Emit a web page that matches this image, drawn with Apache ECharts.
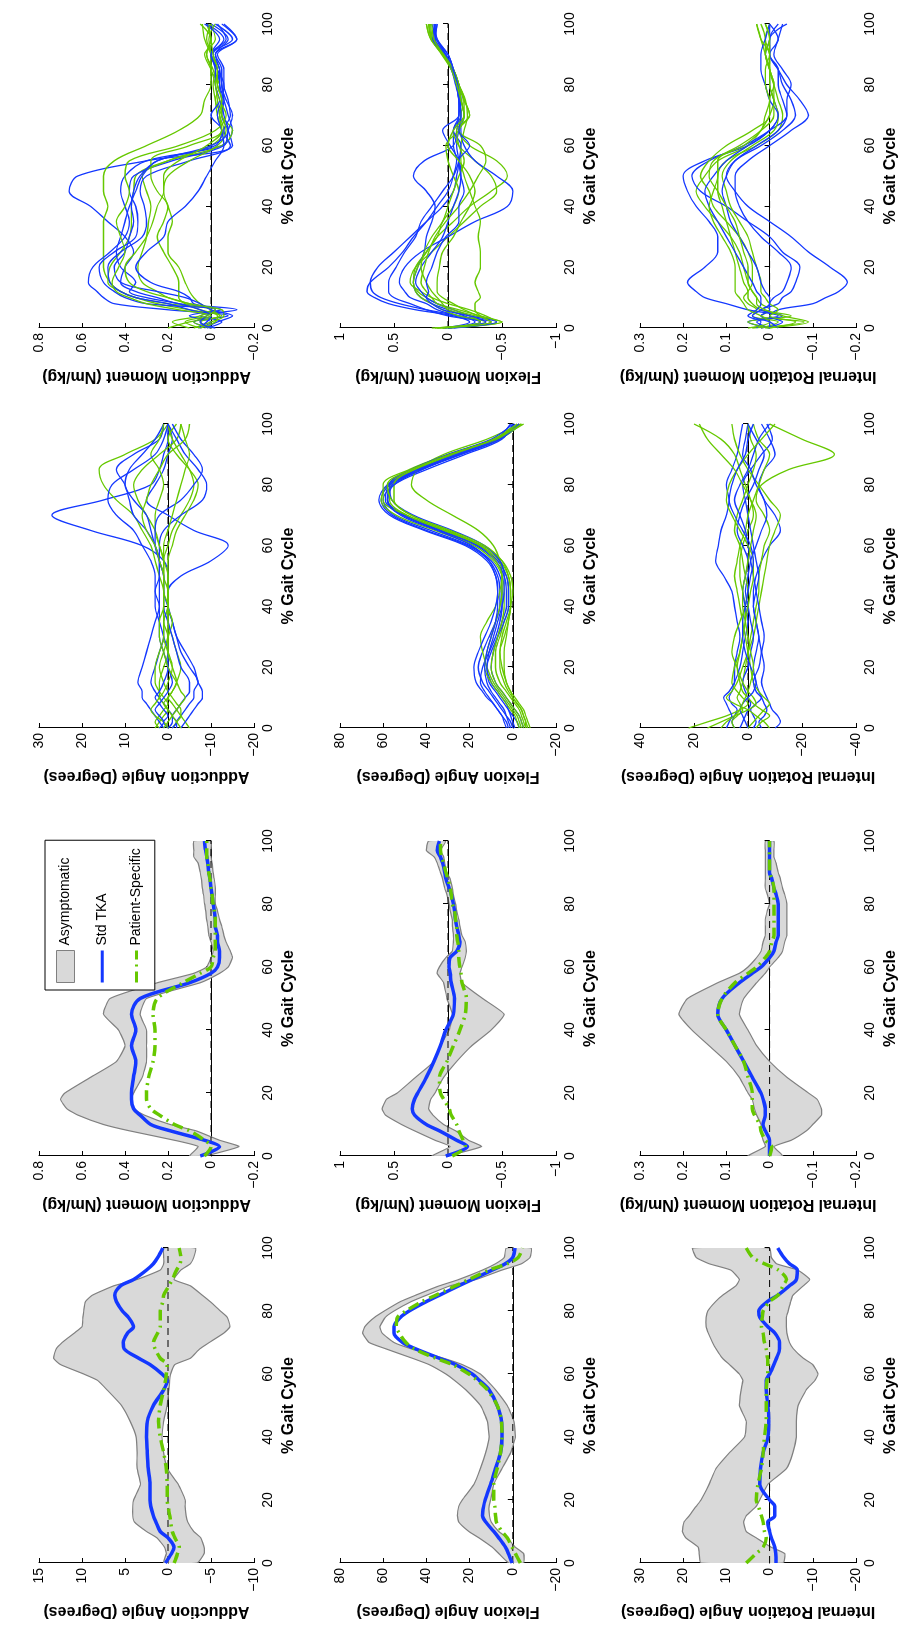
<!DOCTYPE html>
<html>
<head>
<meta charset="utf-8">
<script src="https://cdn.jsdelivr.net/npm/echarts@6/dist/echarts.min.js"></script>
<style>
  html, body { margin: 0; padding: 0; width: 900px; height: 1640px; overflow: hidden; background: #fff; }
  /* the figure is drawn landscape and turned a quarter turn counter-clockwise */
  #chart { position: absolute; left: 0; top: 0; width: 1640px; height: 900px;
           transform-origin: 0 0; transform: translate(0, 1640px) rotate(-90deg); }
</style>
</head>
<body>
<div id="chart"></div>
<script>
// % gait cycle sample points
const meanGait = [0, 3, 5, 8, 10, 13, 15, 18, 20, 25, 30, 35, 40, 45, 50, 55, 58, 60, 63, 65, 68, 70, 73, 75, 78, 80, 83, 85, 88, 90, 93, 95, 97, 100];
const indGait = [0, 2, 4, 6, 8, 10, 12, 15, 20, 25, 30, 35, 40, 45, 50, 55, 60, 65, 70, 75, 80, 85, 90, 95, 100];

// ---- mean curves: asymptomatic band (upper / lower), Std TKA, Patient-Specific ----
const addAngUpper = [0.5, 0.2, 0.4, 1.3, 2.5, 3.9, 4.1, 4.1, 4.0, 3.2, 3.6, 3.6, 3.7, 4.4, 5.4, 7.1, 8.2, 9.8, 12.5, 13.3, 13.0, 12.3, 10.9, 10.0, 9.9, 9.8, 9.6, 8.8, 6.3, 3.6, 0.9, 0.5, 0.5, 0.5];
const addAngLower = [-3.4, -4.2, -4.2, -3.8, -3.0, -2.3, -2.1, -2.0, -2.0, -1.2, 0.1, 0.5, 0.7, 0.5, 0.1, -0.1, -0.2, -0.3, -0.8, -2.6, -3.7, -4.8, -6.5, -7.2, -6.9, -6.1, -4.9, -4.0, -2.6, -0.7, -1.5, -2.6, -3.0, -3.2];
const addAngStd = [0.3, -0.4, -0.7, 0.0, 0.9, 1.4, 1.7, 2.0, 2.1, 2.1, 2.3, 2.4, 2.5, 2.4, 1.7, 0.5, 0.1, 0.7, 2.1, 3.4, 5.1, 5.2, 4.7, 4.0, 4.6, 5.3, 6.0, 6.2, 5.5, 4.0, 2.5, 1.7, 1.2, 0.6];
const addAngPS = [-0.7, -1.1, -1.3, -0.8, -0.5, -0.3, -0.2, 0.0, 0.1, 0.1, 0.2, 0.5, 0.9, 1.1, 0.9, 0.5, 0.3, 0.2, 0.1, 0.9, 1.5, 1.7, 1.2, 0.9, 0.9, 0.9, 0.6, 0.5, -0.1, -0.5, -1.0, -1.4, -1.5, -1.3];

const flxAngUpper = [1.8, 6.5, 9.5, 15.7, 20.3, 25.0, 25.7, 25.0, 23.4, 18.0, 15.0, 12.6, 11.0, 11.8, 15.0, 21.8, 27.0, 31.0, 38.8, 46.5, 58.8, 66.5, 69.5, 68.5, 64.0, 59.5, 52.0, 45.0, 34.0, 25.0, 14.0, 8.0, 4.0, 3.0];
const flxAngLower = [-5.0, -5.0, -1.2, 2.6, 6.5, 10.0, 10.8, 11.0, 10.3, 8.8, 5.0, 1.0, -1.2, -0.5, 2.6, 8.0, 12.0, 15.0, 23.4, 32.0, 47.0, 55.0, 60.5, 61.5, 59.0, 55.0, 47.0, 40.0, 29.0, 17.0, 5.0, -4.0, -8.0, -8.5];
const flxAngStd = [0.3, 2.0, 3.4, 6.5, 8.8, 12.5, 14.0, 13.5, 12.8, 10.3, 8.0, 5.7, 5.0, 5.2, 7.2, 11.0, 15.5, 18.8, 26.5, 34.0, 45.0, 51.0, 55.0, 55.0, 52.0, 48.0, 40.0, 34.0, 25.0, 18.8, 9.5, 3.5, 0.0, -1.0];
const flxAngPS = [-3.5, -1.2, 0.3, 2.6, 5.0, 7.6, 8.0, 8.3, 8.8, 8.8, 7.2, 5.7, 5.0, 5.2, 7.2, 11.8, 16.5, 20.3, 28.0, 35.7, 45.7, 49.5, 52.6, 54.0, 53.4, 49.5, 42.0, 35.7, 26.5, 20.3, 11.0, 2.5, -2.5, -4.5];

const rotAngUpper = [15.9, 16.3, 16.5, 19.4, 20.2, 19.8, 18.6, 17.0, 15.9, 14.0, 12.4, 9.3, 5.8, 5.4, 7.0, 6.6, 6.2, 7.0, 9.3, 10.9, 12.4, 13.2, 14.2, 14.7, 14.7, 14.3, 12.5, 10.9, 7.8, 7.0, 9.0, 14.0, 17.0, 17.8];
const rotAngLower = [-3.1, -3.5, -0.4, 3.1, 5.4, 6.0, 5.4, 3.1, 2.3, 0.4, -3.9, -5.4, -6.2, -6.2, -6.6, -8.5, -10.5, -11.2, -10.0, -7.8, -5.5, -4.6, -4.0, -3.9, -3.9, -4.3, -4.9, -5.4, -7.8, -9.3, -6.5, -1.6, -0.4, 0.0];
const rotAngStd = [-1.5, -1.4, -1.2, -0.4, 0.0, 0.4, -1.2, -1.2, 0.0, 2.3, 2.1, 1.5, 0.4, 0.2, 0.4, 0.8, 0.8, 0.0, -1.0, -1.6, -2.3, -2.3, -1.2, 0.4, 2.3, 2.5, 0.5, -1.9, -4.6, -6.2, -6.4, -4.6, -3.3, -1.9];
const rotAngPS = [5.4, 3.1, 1.5, 0.8, 1.2, 1.5, 1.9, 2.6, 3.1, 2.7, 1.9, 1.5, 1.2, 0.8, 0.8, 0.8, 0.6, 0.4, 0.4, 0.5, 0.8, 1.2, 1.5, 1.9, 1.7, 1.5, 0.0, -1.9, -3.1, -3.9, -2.0, 1.2, 3.9, 5.4];

const addMomUpper = [0.10, 0.06, 0.17, 0.38, 0.50, 0.62, 0.67, 0.70, 0.68, 0.56, 0.44, 0.40, 0.43, 0.50, 0.47, 0.25, 0.08, 0.02, 0.0, -0.01, 0.0, 0.01, 0.015, 0.02, 0.025, 0.03, 0.035, 0.04, 0.045, 0.05, 0.06, 0.08, 0.08, 0.08];
const addMomLower = [0.03, -0.13, -0.04, 0.07, 0.19, 0.31, 0.36, 0.37, 0.36, 0.32, 0.30, 0.30, 0.30, 0.33, 0.30, 0.05, -0.04, -0.08, -0.10, -0.09, -0.07, -0.06, -0.05, -0.04, -0.03, -0.02, -0.02, -0.02, -0.015, -0.01, -0.005, 0.0, 0.0, 0.0];
const addMomStd = [0.05, -0.04, 0.03, 0.19, 0.28, 0.33, 0.36, 0.37, 0.37, 0.36, 0.35, 0.37, 0.35, 0.37, 0.33, 0.10, 0.0, -0.03, -0.04, -0.04, -0.03, -0.03, -0.02, -0.02, -0.015, -0.01, -0.005, 0.0, 0.005, 0.01, 0.015, 0.02, 0.025, 0.03];
const addMomPS = [0.03, 0.0, 0.03, 0.10, 0.17, 0.24, 0.28, 0.30, 0.30, 0.29, 0.27, 0.26, 0.26, 0.27, 0.25, 0.13, 0.05, 0.0, -0.01, -0.02, -0.02, -0.02, -0.02, -0.02, -0.015, -0.01, -0.005, 0.0, 0.005, 0.01, 0.015, 0.02, 0.02, 0.02];

const flxMomUpper = [0.15, -0.02, 0.12, 0.31, 0.43, 0.58, 0.61, 0.57, 0.47, 0.30, 0.13, 0.07, -0.01, -0.04, 0.01, 0.04, 0.10, 0.08, 0.02, -0.04, -0.05, -0.05, -0.04, -0.04, -0.02, -0.01, 0.01, 0.03, 0.05, 0.07, 0.10, 0.13, 0.20, 0.18];
const flxMomLower = [0.02, -0.31, -0.19, -0.07, 0.04, 0.14, 0.18, 0.16, 0.12, 0.04, -0.08, -0.22, -0.40, -0.52, -0.32, -0.13, -0.11, -0.13, -0.16, -0.17, -0.16, -0.13, -0.11, -0.10, -0.08, -0.07, -0.05, -0.04, -0.02, 0.01, 0.03, 0.04, 0.07, 0.02];
const flxMomStd = [0.02, -0.18, -0.08, 0.08, 0.20, 0.31, 0.33, 0.31, 0.28, 0.20, 0.13, 0.07, 0.02, -0.05, -0.06, -0.03, -0.02, -0.01, -0.02, -0.08, -0.11, -0.10, -0.08, -0.07, -0.06, -0.05, -0.03, -0.01, 0.02, 0.03, 0.05, 0.07, 0.10, 0.08];
const flxMomPS = [-0.04, -0.16, -0.14, -0.10, -0.08, -0.03, -0.01, 0.04, 0.07, 0.08, 0.01, -0.05, -0.11, -0.16, -0.17, -0.13, -0.12, -0.11, -0.10, -0.10, -0.09, -0.08, -0.08, -0.07, -0.06, -0.04, -0.03, -0.02, 0.0, 0.02, 0.04, 0.06, 0.07, 0.07];

const rotMomUpper = [0.05, 0.01, 0.015, 0.02, 0.02, 0.03, 0.035, 0.04, 0.05, 0.07, 0.10, 0.14, 0.18, 0.21, 0.19, 0.12, 0.07, 0.05, 0.03, 0.02, 0.015, 0.01, 0.01, 0.01, 0.005, 0.0, 0.005, 0.01, 0.01, 0.01, 0.01, 0.01, 0.01, 0.01];
const rotMomLower = [-0.03, -0.01, -0.05, -0.085, -0.10, -0.12, -0.12, -0.11, -0.09, -0.04, 0.0, 0.03, 0.05, 0.07, 0.06, 0.03, 0.01, 0.0, -0.02, -0.03, -0.035, -0.04, -0.04, -0.04, -0.04, -0.04, -0.035, -0.03, -0.025, -0.02, -0.015, -0.01, -0.01, -0.01];
const rotMomStd = [0.0, 0.0, 0.0, 0.01, 0.015, 0.01, 0.01, 0.015, 0.02, 0.04, 0.06, 0.08, 0.10, 0.12, 0.11, 0.07, 0.04, 0.02, 0.0, -0.01, -0.015, -0.02, -0.02, -0.02, -0.02, -0.02, -0.015, -0.01, -0.005, 0.0, 0.0, 0.0, 0.0, 0.0];
const rotMomPS = [0.0, -0.005, 0.01, 0.02, 0.023, 0.035, 0.04, 0.04, 0.04, 0.05, 0.06, 0.08, 0.10, 0.12, 0.11, 0.08, 0.05, 0.03, 0.01, 0.0, -0.005, -0.01, -0.01, -0.01, -0.01, -0.01, -0.01, -0.01, -0.005, 0.0, 0.0, 0.0, 0.0, 0.0];

// ---- individual subjects (one row per knee) ----
const indAddAngStd = [
  [0, -1, -1, 0, 1, 2, 3, 4, 3, 2, 1, 1, 0, 0, 0, 1, 6, 18, 27, 15, 4, 2, 1, 0, 0],
  [-2, -2, -3, -4, -5, -6, -6, -7, -5, -3, -2, -1, 0, 0, -3, -10, -14, -6, 0, 5, 3, 1, 0, -1, 0],
  [1, 2, 3, 4, 5, 6, 6, 7, 6, 5, 4, 3, 2, 2, 2, 2, 3, 5, 8, 9, 10, 12, 8, 2, 1],
  [-3, -4, -5, -6, -7, -8, -8, -7, -6, -4, -2, -1, 0, 1, 1, 2, 2, 1, -3, -8, -9, -7, -4, -2, 0],
  [0, 1, 0, 1, 2, 3, 2, 1, 0, 0, 1, 2, 3, 3, 2, 2, 3, 4, 5, 8, 10, 9, 6, 3, 1],
  [-1, -2, -1, -2, -3, -4, -5, -5, -3, -2, -1, 0, 1, 1, 1, 2, 3, 3, 2, -3, -6, -8, -6, -3, -1],
  [2, 1, 2, 3, 2, 1, 0, -1, 0, 1, 2, 2, 2, 3, 3, 4, 6, 8, 12, 14, 13, 8, 3, 1, 0]
];
const indAddAngPS = [
  [3, 2, 1, 0, 1, 2, 2, 2, 1, 0, 0, 1, 1, 1, 2, 3, 4, 6, 8, 12, 15, 16, 10, 3, 0],
  [-5, -4, -3, -2, -1, 0, -1, -2, -3, -2, -1, 0, 0, 0, 1, 1, 0, -1, -3, -5, -6, -5, -3, -1, 0],
  [2, 3, 2, 1, 0, 1, 2, 3, 3, 2, 1, 1, 1, 1, 1, 1, 2, 3, 5, 7, 8, 6, 2, -2, -3],
  [-1, -2, -3, -3, -2, -1, 0, 1, 2, 1, 0, -1, 0, 0, 0, 0, -1, -2, -4, -6, -7, -5, -2, 0, -2],
  [0, 1, 3, 4, 3, 2, 1, 0, -1, 0, 1, 1, 0, 0, 0, 1, 2, 3, 3, 2, 1, 2, 4, 2, 1],
  [-3, -2, -1, 0, 1, 0, -1, -2, -1, 0, 0, 0, 0, 1, 1, 1, 1, 0, -1, -2, -3, -4, -5, -4, -3],
  [1, 0, -1, -2, -3, -4, -3, -2, 0, 1, 2, 2, 1, 1, 1, 2, 3, 5, 6, 5, 4, 2, 0, -4, -5]
];
const indFlxAngStd = [
  [2, 3, 5, 7, 9, 11, 13, 15, 14, 11, 8, 6, 5, 5, 6, 10, 20, 38, 55, 60, 55, 40, 22, 5, 0],
  [-3, -2, 0, 2, 4, 6, 8, 11, 12, 10, 7, 4, 2, 2, 3, 7, 16, 33, 50, 58, 56, 42, 25, 7, -1],
  [0, 1, 3, 5, 7, 9, 11, 14, 16, 14, 11, 8, 6, 6, 7, 11, 21, 40, 56, 61, 57, 43, 24, 6, -2],
  [-5, -4, -3, -1, 1, 3, 5, 8, 10, 9, 7, 5, 3, 3, 4, 8, 17, 34, 51, 59, 57, 44, 27, 8, -3],
  [3, 4, 5, 7, 9, 12, 14, 17, 18, 16, 13, 10, 8, 7, 8, 12, 22, 41, 57, 62, 58, 44, 26, 8, 1],
  [-1, 0, 1, 2, 3, 5, 7, 10, 12, 11, 9, 7, 5, 4, 4, 6, 13, 28, 46, 56, 57, 47, 30, 10, 0],
  [1, 2, 3, 4, 6, 8, 10, 12, 13, 12, 10, 8, 7, 7, 8, 11, 19, 35, 52, 58, 55, 42, 24, 6, -3]
];
const indFlxAngPS = [
  [-6, -5, -4, -3, -1, 1, 3, 6, 8, 8, 6, 4, 2, 2, 3, 7, 16, 33, 50, 58, 56, 43, 25, 6, -4],
  [-8, -7, -6, -5, -3, -1, 1, 3, 5, 6, 5, 3, 1, 1, 2, 6, 15, 32, 49, 57, 57, 45, 28, 8, -5],
  [-4, -3, -2, 0, 2, 4, 6, 9, 12, 14, 15, 12, 8, 6, 5, 6, 9, 16, 28, 40, 47, 44, 32, 12, -3],
  [-5, -4, -3, -1, 1, 3, 5, 8, 10, 9, 7, 5, 4, 4, 5, 9, 18, 36, 54, 61, 58, 45, 27, 7, -3],
  [-7, -6, -5, -4, -2, 0, 2, 4, 6, 6, 4, 2, 1, 0, 1, 5, 14, 31, 49, 60, 60, 48, 30, 9, -4],
  [-3, -2, -1, 1, 3, 5, 7, 10, 13, 12, 10, 8, 6, 5, 5, 8, 15, 30, 47, 55, 55, 46, 29, 9, -2],
  [-6, -6, -5, -4, -2, 0, 1, 3, 4, 4, 3, 2, 1, 1, 2, 5, 13, 29, 47, 56, 58, 47, 29, 8, -4]
];
const indRotAngStd = [
  [5, 6, 5, 4, 6, 7, 6, 5, 5, 4, 3, 4, 5, 6, 9, 12, 11, 10, 8, 7, 8, 6, 4, 3, 2],
  [-2, -3, -2, -1, -3, -5, -4, -3, -2, -3, -4, -3, -2, -2, -3, -5, -8, -12, -10, -6, -4, -6, -10, -8, -5],
  [-10, -12, -11, -9, -8, -7, -6, -5, -6, -5, -4, -3, -2, -3, -4, -3, -2, -1, 0, 1, 2, -1, -5, -9, -7],
  [3, 2, 1, 0, -1, 0, 1, 2, 0, -1, -2, -1, 0, 1, 0, -1, -3, -5, -7, -6, -3, -1, 2, 1, 0],
  [8, 7, 6, 7, 8, 9, 7, 5, 3, 2, 1, 0, 1, 2, 1, 0, 2, 4, 3, 1, -2, -4, -6, -3, 0],
  [-5, -4, -6, -7, -6, -5, -3, -2, -4, -5, -6, -5, -4, -3, -2, -1, 0, 1, 3, 5, 3, 0, -2, -4, -8],
  [0, 1, 2, 3, 2, 0, -2, -3, -1, 1, 2, 2, 1, 0, -1, -2, -1, 2, 5, 7, 6, 4, 1, 0, -2]
];
const indRotAngPS = [
  [22, 15, 8, 3, 0, 2, 4, 6, 5, 3, 2, 1, 1, 2, 3, 3, 2, 0, -2, -1, 1, 3, 5, 10, 20],
  [5, 6, 4, 2, 3, 4, 3, 2, 1, 0, -1, -2, -3, -4, -4, -5, -6, -8, -6, -3, -5, -15, -32, -20, -8],
  [-8, -6, -3, 0, 5, 8, 6, 4, 2, 0, -2, -3, -4, -5, -6, -7, -8, -10, -12, -8, -4, 0, 3, 5, 6],
  [15, 10, 5, 0, -3, -2, 0, 2, 4, 6, 5, 3, 1, 0, 1, 2, 3, 5, 4, 2, 0, -2, -3, -1, 0],
  [0, -2, -4, -6, -8, -6, -4, -2, -1, 0, 1, 2, 3, 4, 5, 4, 3, 1, 0, -2, -4, -6, -8, -4, -2],
  [-3, -5, -8, -5, -2, 0, 2, 3, 4, 3, 2, 1, 0, -1, -2, -2, 0, 3, 6, 8, 7, 4, 0, -5, -10],
  [10, 8, 5, 3, 2, 1, 0, -1, -2, -1, 0, 1, 2, 2, 1, 0, -1, -2, -3, -1, 2, 5, 10, 15, 18]
];
const indAddMomStd = [
  [0.02, -0.05, 0.05, -0.12, 0.15, 0.25, 0.35, 0.42, 0.40, 0.36, 0.40, 0.48, 0.56, 0.66, 0.62, 0.30, -0.10, -0.08, -0.05, -0.06, -0.05, -0.04, -0.02, -0.12, -0.05],
  [0.0, 0.05, -0.08, 0.2, 0.45, 0.5, 0.53, 0.57, 0.55, 0.47, 0.40, 0.38, 0.40, 0.42, 0.40, 0.30, -0.05, -0.1, -0.08, -0.06, -0.04, -0.03, 0.0, -0.1, -0.02],
  [0.05, 0.0, 0.1, -0.05, 0.3, 0.4, 0.45, 0.5, 0.52, 0.45, 0.35, 0.34, 0.35, 0.38, 0.36, 0.18, -0.06, -0.08, -0.1, -0.07, -0.05, -0.05, -0.02, -0.08, 0.0],
  [-0.02, 0.08, 0.0, 0.1, 0.2, 0.35, 0.42, 0.47, 0.48, 0.42, 0.32, 0.30, 0.31, 0.33, 0.30, 0.1, -0.09, -0.06, -0.09, -0.08, -0.06, -0.06, -0.03, -0.12, -0.06],
  [0.03, -0.03, -0.1, 0.0, 0.05, 0.12, 0.25, 0.42, 0.45, 0.40, 0.38, 0.36, 0.37, 0.36, 0.33, 0.25, 0.0, -0.08, -0.06, -0.05, -0.04, -0.04, -0.01, -0.06, 0.02],
  [0.06, 0.02, 0.0, 0.05, 0.15, 0.3, 0.38, 0.35, 0.42, 0.44, 0.42, 0.40, 0.38, 0.35, 0.32, 0.25, -0.02, -0.05, 0.0, -0.04, -0.02, -0.02, 0.0, -0.04, 0.03],
  [0.0, 0.05, 0.02, -0.02, 0.08, 0.1, 0.15, 0.28, 0.35, 0.3, 0.22, 0.2, 0.12, 0.06, 0.02, -0.02, -0.06, -0.05, -0.03, -0.05, -0.06, -0.03, 0.0, -0.07, -0.03]
];
const indAddMomPS = [
  [0.1, 0.18, 0.05, 0.0, 0.2, 0.35, 0.42, 0.47, 0.5, 0.5, 0.5, 0.5, 0.48, 0.5, 0.5, 0.45, 0.3, 0.15, 0.05, 0.03, 0.0, 0.0, 0.02, 0.0, 0.05],
  [0.2, 0.1, -0.05, 0.1, 0.25, 0.35, 0.42, 0.48, 0.47, 0.42, 0.38, 0.37, 0.37, 0.36, 0.35, 0.2, -0.05, -0.1, -0.05, -0.05, -0.03, -0.01, 0.02, 0.0, 0.02],
  [0.08, 0.0, -0.06, -0.05, 0.1, 0.2, 0.25, 0.32, 0.34, 0.32, 0.3, 0.29, 0.28, 0.3, 0.32, 0.2, 0.0, -0.06, -0.04, -0.03, -0.02, 0.0, 0.03, -0.02, 0.0],
  [0.0, 0.05, -0.04, 0.0, 0.05, 0.08, 0.1, 0.12, 0.15, 0.2, 0.2, 0.18, 0.2, 0.22, 0.2, 0.1, -0.03, -0.07, -0.05, -0.02, -0.04, 0.0, 0.0, 0.02, 0.0],
  [0.05, -0.02, -0.03, 0.05, 0.12, 0.15, 0.15, 0.15, 0.18, 0.22, 0.25, 0.22, 0.2, 0.25, 0.28, 0.28, 0.1, -0.05, -0.03, -0.02, -0.01, -0.02, 0.0, 0.01, -0.02],
  [0.0, 0.08, 0.0, 0.15, 0.3, 0.38, 0.44, 0.46, 0.43, 0.4, 0.42, 0.44, 0.4, 0.38, 0.4, 0.38, 0.15, -0.02, -0.07, -0.04, -0.02, -0.03, 0.0, 0.03, 0.04],
  [0.05, 0.12, 0.02, -0.02, 0.1, 0.2, 0.3, 0.38, 0.4, 0.35, 0.3, 0.27, 0.25, 0.22, 0.22, 0.15, 0.02, -0.05, -0.04, -0.05, -0.03, -0.03, -0.01, 0.0, 0.01]
];
const indFlxMomStd = [
  [0.0, -0.3, -0.1, 0.2, 0.45, 0.62, 0.7, 0.72, 0.65, 0.5, 0.35, 0.2, 0.05, -0.05, -0.08, -0.1, -0.08, -0.1, -0.15, -0.12, -0.1, -0.05, 0.02, 0.12, 0.1],
  [0.05, -0.2, -0.05, 0.3, 0.55, 0.68, 0.75, 0.72, 0.55, 0.42, 0.32, 0.2, 0.1, 0.0, -0.05, -0.08, -0.05, -0.05, -0.12, -0.1, -0.08, -0.04, 0.03, 0.13, 0.12],
  [-0.02, -0.4, -0.1, 0.1, 0.2, 0.35, 0.4, 0.45, 0.4, 0.25, 0.0, -0.25, -0.55, -0.6, -0.45, -0.25, -0.15, -0.12, -0.12, -0.1, -0.08, -0.05, 0.0, 0.12, 0.1],
  [0.0, -0.25, -0.15, 0.0, 0.15, 0.25, 0.3, 0.32, 0.28, 0.22, 0.2, 0.15, 0.12, 0.2, 0.32, 0.22, -0.05, -0.08, -0.1, -0.12, -0.1, -0.05, 0.0, 0.1, 0.15],
  [0.03, -0.35, -0.2, -0.05, 0.1, 0.2, 0.25, 0.3, 0.25, 0.15, 0.05, 0.0, -0.05, -0.1, -0.12, -0.1, -0.02, 0.05, -0.1, -0.1, -0.08, -0.04, 0.02, 0.1, 0.12],
  [0.0, -0.3, 0.0, 0.2, 0.35, 0.5, 0.55, 0.55, 0.48, 0.4, 0.3, 0.25, 0.15, 0.05, -0.05, -0.1, -0.12, -0.05, -0.1, -0.1, -0.07, -0.03, 0.03, 0.14, 0.12],
  [-0.05, -0.45, -0.2, 0.05, 0.15, 0.2, 0.18, 0.2, 0.15, 0.1, 0.02, -0.1, -0.1, -0.15, -0.12, -0.1, -0.2, -0.1, -0.12, -0.11, -0.09, -0.05, 0.0, 0.11, 0.13]
];
const indFlxMomPS = [
  [0.15, -0.5, -0.3, -0.1, 0.1, 0.2, 0.28, 0.32, 0.3, 0.2, 0.1, -0.05, -0.2, -0.4, -0.55, -0.45, -0.2, -0.1, -0.2, -0.15, -0.1, -0.05, 0.05, 0.15, 0.18],
  [0.1, -0.45, -0.35, -0.2, 0.0, 0.15, 0.25, 0.35, 0.3, 0.15, 0.0, -0.15, -0.3, -0.45, -0.4, -0.25, -0.1, -0.05, -0.15, -0.15, -0.1, -0.04, 0.05, 0.16, 0.2],
  [0.05, -0.4, -0.3, -0.25, -0.25, -0.3, -0.28, -0.25, -0.3, -0.3, -0.28, -0.3, -0.25, -0.2, -0.15, -0.12, -0.12, -0.15, -0.18, -0.16, -0.1, -0.05, 0.05, 0.15, 0.18],
  [0.1, -0.35, -0.1, 0.05, 0.15, 0.25, 0.3, 0.32, 0.28, 0.2, 0.1, 0.05, -0.05, -0.1, -0.05, 0.0, 0.02, -0.1, -0.15, -0.12, -0.1, -0.05, 0.05, 0.14, 0.16],
  [0.0, -0.5, -0.25, -0.05, 0.1, 0.15, 0.2, 0.25, 0.22, 0.18, 0.12, 0.02, -0.1, -0.2, -0.28, -0.35, -0.3, -0.1, -0.12, -0.14, -0.08, -0.03, 0.06, 0.15, 0.17],
  [0.12, -0.3, -0.2, 0.0, 0.05, 0.1, 0.15, 0.2, 0.25, 0.22, 0.15, 0.05, 0.0, -0.05, -0.1, -0.15, -0.1, -0.08, -0.2, -0.15, -0.1, -0.05, 0.04, 0.13, 0.15],
  [0.05, -0.4, -0.28, -0.15, -0.05, 0.05, 0.1, 0.1, 0.08, 0.05, -0.05, -0.12, -0.2, -0.25, -0.2, -0.1, 0.0, -0.05, -0.15, -0.12, -0.08, -0.03, 0.05, 0.16, 0.2]
];
const indRotMomStd = [
  [0.0, 0.05, -0.02, 0.05, 0.1, 0.15, 0.17, 0.19, 0.15, 0.12, 0.12, 0.14, 0.17, 0.19, 0.2, 0.15, 0.05, 0.0, -0.02, -0.01, 0.0, 0.0, 0.01, 0.0, 0.0],
  [0.02, -0.03, 0.0, -0.02, -0.1, -0.13, -0.16, -0.18, -0.14, -0.09, -0.05, 0.0, 0.05, 0.08, 0.1, 0.08, 0.02, -0.03, -0.06, -0.05, -0.03, -0.02, 0.0, -0.02, 0.0],
  [0.0, 0.03, -0.03, 0.02, -0.02, -0.03, -0.05, -0.06, -0.07, -0.03, 0.0, 0.05, 0.1, 0.16, 0.18, 0.14, 0.06, 0.0, -0.04, -0.03, -0.02, -0.02, 0.0, 0.0, -0.02],
  [0.0, 0.0, 0.02, 0.0, 0.0, -0.01, -0.03, -0.04, -0.05, -0.02, 0.02, 0.05, 0.07, 0.08, 0.08, 0.05, 0.0, -0.05, -0.09, -0.07, -0.04, -0.02, 0.0, 0.0, -0.04],
  [0.03, 0.02, 0.05, 0.03, 0.02, 0.02, 0.03, 0.04, 0.06, 0.08, 0.1, 0.12, 0.14, 0.15, 0.13, 0.1, 0.05, 0.0, -0.02, 0.0, 0.01, 0.02, 0.02, 0.01, 0.0],
  [-0.02, 0.0, 0.04, 0.02, 0.0, 0.0, 0.01, 0.02, 0.03, 0.05, 0.07, 0.09, 0.1, 0.11, 0.1, 0.08, 0.03, -0.02, -0.04, -0.04, -0.05, -0.03, -0.01, -0.02, -0.03]
];
const indRotMomPS = [
  [0.04, -0.08, 0.02, 0.0, 0.02, 0.03, 0.04, 0.05, 0.06, 0.07, 0.09, 0.12, 0.15, 0.17, 0.15, 0.12, 0.05, 0.02, 0.0, -0.01, 0.0, 0.0, 0.01, 0.02, 0.03],
  [0.0, 0.05, -0.05, 0.02, 0.04, 0.05, 0.05, 0.06, 0.07, 0.08, 0.09, 0.1, 0.11, 0.12, 0.12, 0.1, 0.03, -0.02, -0.03, -0.02, -0.01, 0.0, 0.0, 0.01, 0.0],
  [0.02, -0.02, 0.04, 0.03, 0.05, 0.06, 0.05, 0.04, 0.04, 0.05, 0.07, 0.1, 0.13, 0.14, 0.16, 0.14, 0.1, 0.04, 0.0, 0.0, -0.01, 0.0, 0.01, 0.01, 0.02],
  [0.0, -0.06, 0.0, -0.02, 0.0, 0.01, 0.02, 0.02, 0.03, 0.04, 0.05, 0.07, 0.09, 0.1, 0.11, 0.09, 0.04, -0.01, -0.02, -0.01, 0.0, 0.0, 0.0, 0.0, 0.01],
  [0.05, 0.0, 0.02, 0.05, 0.06, 0.07, 0.08, 0.08, 0.08, 0.09, 0.11, 0.13, 0.14, 0.13, 0.12, 0.12, 0.06, 0.02, 0.01, 0.0, 0.01, 0.01, 0.0, 0.02, 0.03],
  [0.01, -0.09, -0.03, 0.01, 0.03, 0.03, 0.04, 0.05, 0.05, 0.06, 0.07, 0.08, 0.1, 0.12, 0.14, 0.13, 0.07, 0.02, -0.01, -0.01, -0.01, 0.0, 0.01, 0.0, 0.01]
];

const gaitTicks = [0, 20, 40, 60, 80, 100];

// ---- look ----
const FONT = 'Liberation Sans, Arial, Helvetica, sans-serif';
const BLUE = '#1438ff';
const GREEN = '#66c800';
const BAND = '#d9d9d9';
const BAND_EDGE = '#808080';
const DASH_DOT = [11, 5, 2, 5];

// grid boxes in the landscape frame: [left, width] per column, [top, height] per row
const cols = [[77, 315], [484, 315], [912, 304], [1312, 304]];
const rows = [[39, 215], [340, 216], [640, 216]];

const fmt = v => {
  const r = Math.round(v * 1000) / 1000;
  return r < 0 ? '\u2212' + Math.abs(r) : String(r);
};
const pairs = (xs, ys) => xs.map((x, i) => [x, ys[i]]);

const grids = [], xAxes = [], yAxes = [], series = [];

function addPanel(col, row, yMin, yMax, yStep, yName) {
  const i = grids.length;
  grids.push({ left: cols[col][0], width: cols[col][1], top: rows[row][0], height: rows[row][1] });
  const axisCommon = {
    axisLine: { lineStyle: { color: '#000', width: 1 } },
    axisTick: { inside: true, length: 5, lineStyle: { color: '#000' } },
    splitLine: { show: false },
    nameLocation: 'middle',
    nameTextStyle: { fontFamily: FONT, fontSize: 16, fontWeight: 'bold', color: '#000' }
  };
  xAxes.push(Object.assign({}, axisCommon, {
    gridIndex: i, type: 'value', min: gaitTicks[0], max: gaitTicks[gaitTicks.length - 1], interval: 20,
    name: '% Gait Cycle', nameGap: 27,
    axisLabel: { fontFamily: FONT, fontSize: 14, color: '#000', margin: 7 }
  }));
  yAxes.push(Object.assign({}, axisCommon, {
    gridIndex: i, type: 'value', min: yMin, max: yMax, interval: yStep,
    name: yName, nameGap: 40,
    axisLabel: { fontFamily: FONT, fontSize: 14, color: '#000', margin: 5, formatter: fmt }
  }));
  // dashed zero line
  series.push({
    type: 'line', xAxisIndex: i, yAxisIndex: i, silent: true, symbol: 'none', z: 3,
    data: [[0, 0], [100, 0]],
    lineStyle: { color: '#000', width: 1, type: [7, 5] }
  });
  return i;
}

function addMean(col, row, yMin, yMax, yStep, yName, upper, lower, std, ps) {
  const i = addPanel(col, row, yMin, yMax, yStep, yName);
  series.push({
    type: 'custom', name: 'Asymptomatic', xAxisIndex: i, yAxisIndex: i, silent: true, clip: true, z: 1,
    itemStyle: { color: BAND, borderColor: BAND_EDGE, borderWidth: 1 },
    data: meanGait.map((g, k) => [g, lower[k], upper[k]]),
    encode: { x: 0, y: [1, 2] },
    renderItem: (params, api) => {
      if (params.dataIndex !== 0) return null;
      const pts = [];
      meanGait.forEach((g, k) => pts.push(api.coord([g, upper[k]])));
      for (let k = meanGait.length - 1; k >= 0; k--) pts.push(api.coord([meanGait[k], lower[k]]));
      return { type: 'polygon', shape: { points: pts, smooth: 0.15 },
               style: { fill: BAND, stroke: BAND_EDGE, lineWidth: 1.2 } };
    }
  });
  series.push({
    type: 'line', name: 'Std TKA', xAxisIndex: i, yAxisIndex: i, symbol: 'none', smooth: 0.3, z: 4,
    data: pairs(meanGait, std), lineStyle: { color: BLUE, width: 3.5 }, itemStyle: { color: BLUE }
  });
  series.push({
    type: 'line', name: 'Patient-Specific', xAxisIndex: i, yAxisIndex: i, symbol: 'none', smooth: 0.3, z: 5,
    data: pairs(meanGait, ps), lineStyle: { color: GREEN, width: 3.5, type: DASH_DOT }, itemStyle: { color: GREEN }
  });
}

function addIndividual(col, row, yMin, yMax, yStep, yName, stdRows, psRows) {
  const i = addPanel(col, row, yMin, yMax, yStep, yName);
  const n = Math.max(stdRows.length, psRows.length);
  for (let k = 0; k < n; k++) {
    if (stdRows[k]) series.push({
      type: 'line', xAxisIndex: i, yAxisIndex: i, symbol: 'none', smooth: 0.35, silent: true, z: 4,
      data: pairs(indGait, stdRows[k]), lineStyle: { color: BLUE, width: 1.3 }
    });
    if (psRows[k]) series.push({
      type: 'line', xAxisIndex: i, yAxisIndex: i, symbol: 'none', smooth: 0.35, silent: true, z: 4,
      data: pairs(indGait, psRows[k]), lineStyle: { color: GREEN, width: 1.3 }
    });
  }
}

// mean figure
addMean(0, 0, -10, 15, 5, 'Adduction Angle (Degrees)', addAngUpper, addAngLower, addAngStd, addAngPS);
addMean(0, 1, -20, 80, 20, 'Flexion Angle (Degrees)', flxAngUpper, flxAngLower, flxAngStd, flxAngPS);
addMean(0, 2, -20, 30, 10, 'Internal Rotation Angle (Degrees)', rotAngUpper, rotAngLower, rotAngStd, rotAngPS);
addMean(1, 0, -0.2, 0.8, 0.2, 'Adduction Moment (Nm/kg)', addMomUpper, addMomLower, addMomStd, addMomPS);
addMean(1, 1, -1, 1, 0.5, 'Flexion Moment (Nm/kg)', flxMomUpper, flxMomLower, flxMomStd, flxMomPS);
addMean(1, 2, -0.2, 0.3, 0.1, 'Internal Rotation Moment (Nm/kg)', rotMomUpper, rotMomLower, rotMomStd, rotMomPS);
// individual knees
addIndividual(2, 0, -20, 30, 10, 'Adduction Angle (Degrees)', indAddAngStd, indAddAngPS);
addIndividual(2, 1, -20, 80, 20, 'Flexion Angle (Degrees)', indFlxAngStd, indFlxAngPS);
addIndividual(2, 2, -40, 40, 20, 'Internal Rotation Angle (Degrees)', indRotAngStd, indRotAngPS);
addIndividual(3, 0, -0.2, 0.8, 0.2, 'Adduction Moment (Nm/kg)', indAddMomStd, indAddMomPS);
addIndividual(3, 1, -1, 1, 0.5, 'Flexion Moment (Nm/kg)', indFlxMomStd, indFlxMomPS);
addIndividual(3, 2, -0.2, 0.3, 0.1, 'Internal Rotation Moment (Nm/kg)', indRotMomStd, indRotMomPS);

const chart = echarts.init(document.getElementById('chart'), null, { renderer: 'canvas' });
chart.setOption({
  animation: false,
  backgroundColor: '#fff',
  textStyle: { fontFamily: FONT },
  legend: {
    orient: 'vertical', left: 650, top: 45,
    backgroundColor: '#fff', borderColor: '#000', borderWidth: 1, borderRadius: 0,
    padding: [11, 8, 11, 6], itemGap: 20, itemWidth: 32, itemHeight: 18,
    selectedMode: false,
    textStyle: { fontFamily: FONT, fontSize: 14, color: '#000' },
    data: [
      { name: 'Asymptomatic', icon: 'rect', itemStyle: { color: BAND, borderColor: BAND_EDGE, borderWidth: 1 } },
      // line-only keys: the marker in the middle is hidden
      { name: 'Std TKA', itemStyle: { color: BLUE, opacity: 0 },
        lineStyle: { color: BLUE, width: 3, type: 'solid', opacity: 1 } },
      { name: 'Patient-Specific', itemStyle: { color: GREEN, opacity: 0 },
        lineStyle: { color: GREEN, width: 3, type: DASH_DOT, opacity: 1 } }
    ]
  },
  grid: grids,
  xAxis: xAxes,
  yAxis: yAxes,
  series: series
});
</script>
</body>
</html>
